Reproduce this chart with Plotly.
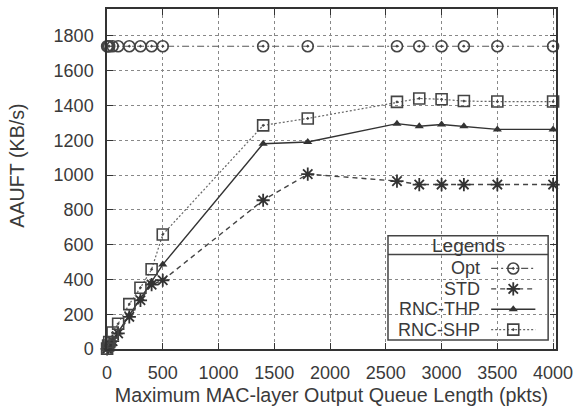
import plotly.graph_objects as go

# ---------------- data ----------------
queue_len = [1, 10, 20, 50, 100, 200, 300, 400, 500, 1400, 1800, 2600, 2800, 3000, 3200, 3500, 4000]
opt = [1740] * len(queue_len)
std = [1, 9, 18, 45, 90, 185, 280, 370, 395, 855, 1005, 965, 945, 945, 945, 945, 945]
rnc_thp = [1, 10, 20, 48, 95, 195, 290, 385, 485, 1180, 1190, 1295, 1280, 1290, 1280, 1262, 1262]
rnc_shp = [2, 20, 40, 95, 145, 258, 352, 458, 658, 1285, 1325, 1420, 1440, 1435, 1425, 1422, 1422]

series_names = ["Opt", "STD", "RNC-THP", "RNC-SHP"]
x_ticks = [0, 500, 1000, 1500, 2000, 2500, 3000, 3500, 4000]
y_ticks = [0, 200, 400, 600, 800, 1000, 1200, 1400, 1600, 1800]

FONT = "Liberation Sans, Arial, sans-serif"
TXT = "#3a3a3a"

styles = {
    "Opt": dict(line=dict(color="#555", width=1.2, dash="7px,3px,2px,3px"),
                marker=dict(symbol="circle-open-dot", size=11, color="#444", line=dict(width=1.6, color="#444"))),
    "STD": dict(line=dict(color="#444", width=1.4, dash="5px,4px"),
                marker=dict(symbol="asterisk-open", size=11, color="#333", line=dict(width=1.8, color="#333"))),
    "RNC-THP": dict(line=dict(color="#333", width=1.4),
                    marker=dict(symbol="triangle-up", size=8, color="#333", line=dict(width=0))),
    "RNC-SHP": dict(line=dict(color="#666", width=1.2, dash="2px,2px"),
                    marker=dict(symbol="square-open-dot", size=11, color="#444", line=dict(width=1.6, color="#444"))),
}
values = {"Opt": opt, "STD": std, "RNC-THP": rnc_thp, "RNC-SHP": rnc_shp}

fig = go.Figure()
for name in series_names:
    st = styles[name]
    fig.add_trace(go.Scatter(x=queue_len, y=values[name], mode="lines+markers", name=name,
                             line=st["line"], marker=st["marker"], showlegend=False, cliponaxis=False))

# ---------------- custom legend (gnuplot style) ----------------
# plot area: x 107..564 px (457 wide), y 7..349 px (342 tall)
PW, PH = 457.0, 342.0
def px(x): return (x - 107) / PW
def py(y): return (349 - y) / PH

lg_x0, lg_x1 = px(393), px(556)
lg_y0, lg_y1, lg_sep = py(340), py(235), py(254)
row_y = [py(268), py(288.5), py(309), py(329.5)]
samp_x = [px(498), px(520.5), px(543)]
text_x = px(488)

for name, ry in zip(series_names, row_y):
    st = styles[name]
    fig.add_trace(go.Scatter(x=samp_x, y=[ry] * 3, mode="lines+markers", xaxis="x2", yaxis="y2",
                             line=st["line"], marker=dict(st["marker"], opacity=[0, 1, 0]),
                             showlegend=False, hoverinfo="skip", cliponaxis=False))
    fig.add_annotation(x=text_x, y=ry, xref="paper", yref="paper", text=name, showarrow=False,
                       xanchor="right", yanchor="middle", borderpad=0,
                       font=dict(family=FONT, size=18, color=TXT))

fig.add_annotation(x=(lg_x0 + lg_x1) / 2, y=(lg_y1 + lg_sep) / 2, xref="paper", yref="paper",
                   text="Legends", showarrow=False, xanchor="center", yanchor="middle", borderpad=0,
                   font=dict(family=FONT, size=19, color=TXT))

fig.add_shape(type="rect", xref="paper", yref="paper", x0=lg_x0, x1=lg_x1, y0=lg_y0, y1=lg_y1,
              fillcolor="white", line=dict(color="#444", width=1.5), layer="between")
fig.add_shape(type="line", xref="paper", yref="paper", x0=lg_x0, x1=lg_x1, y0=lg_sep, y1=lg_sep,
              line=dict(color="#444", width=1.5), layer="between")

# y-axis title (placed like the original)
fig.add_annotation(x=px(15), y=py(165), xref="paper", yref="paper", text="AAUFT (KB/s)",
                   showarrow=False, textangle=-90, xanchor="center", yanchor="middle",
                   font=dict(family=FONT, size=19.7, color=TXT))

axis_common = dict(
    showline=True, linecolor="#333", linewidth=1.5, mirror="allticks",
    ticks="inside", ticklen=6, tickcolor="#333", tickwidth=1.2,
    showgrid=True, gridcolor="#888", griddash="dot", gridwidth=1,
    zeroline=False, tickfont=dict(family=FONT, size=18, color=TXT),
    ticklabeloverflow="allow",
)

fig.update_layout(
    width=580, height=410,
    margin=dict(l=107, r=16, t=7, b=61),
    paper_bgcolor="white", plot_bgcolor="white",
    xaxis=dict(axis_common, range=[0, 4026], tickvals=x_ticks, ticklabelstandoff=7,
               title=dict(text="Maximum MAC-layer Output Queue Length (pkts)",
                          font=dict(family=FONT, size=19.7, color=TXT), standoff=6)),
    yaxis=dict(axis_common, range=[0, 1954], tickvals=y_ticks, ticklabelstandoff=8),
    xaxis2=dict(overlaying="x", range=[0, 1], visible=False, domain=[0, 1]),
    yaxis2=dict(overlaying="y", range=[0, 1], visible=False, domain=[0, 1]),
    showlegend=False,
)

fig.write_html("out.html")
